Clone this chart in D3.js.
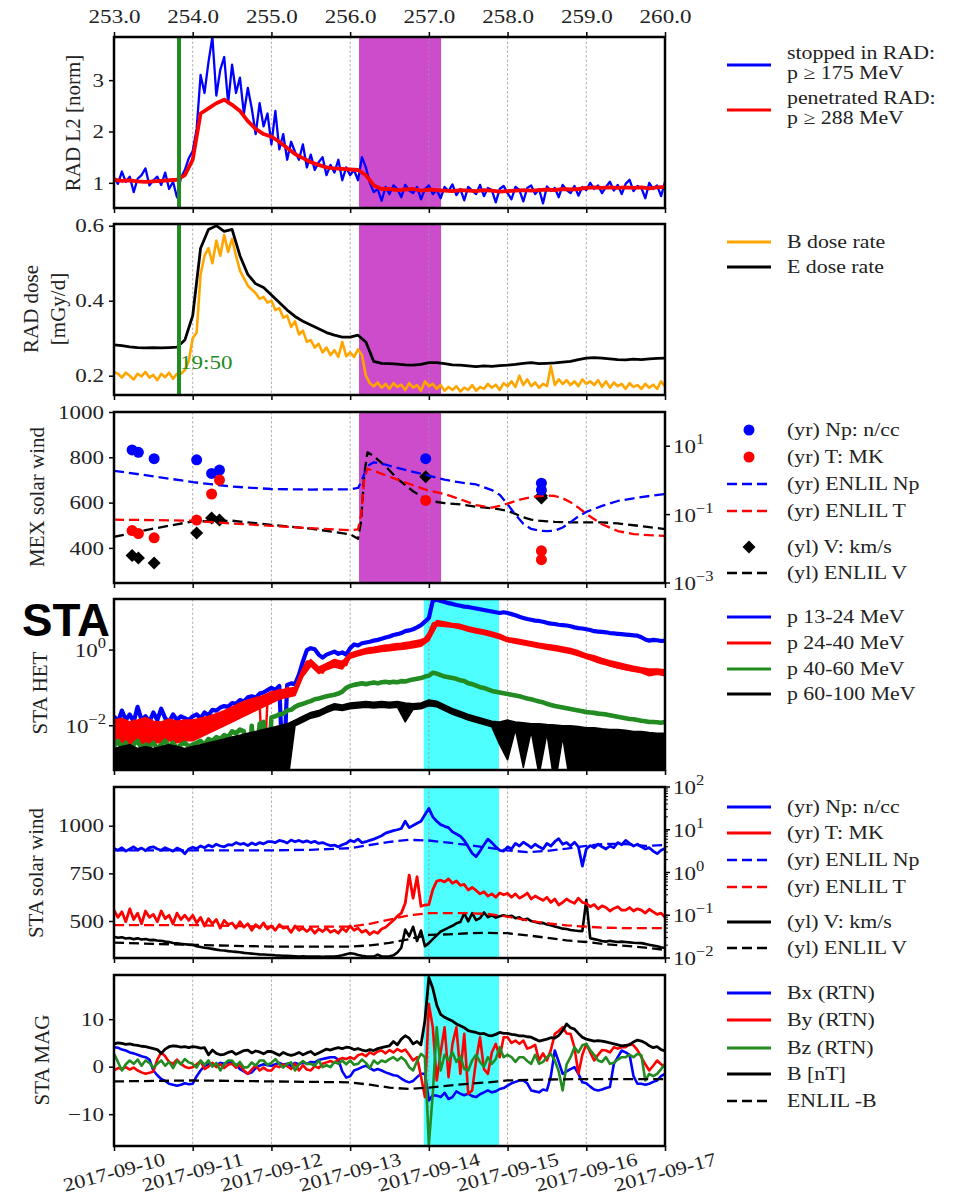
<!DOCTYPE html>
<html><head><meta charset="utf-8">
<script src="https://cdn.jsdelivr.net/npm/d3@7"></script>
<style>
body{margin:0;background:#fff;}
svg{display:block;}
</style></head><body>
<svg id="chart" width="955" height="1197"></svg>
<script>
// ---------------- DATA ----------------
const doyTicks = [253,254,255,256,257,258,259,260];
const gridDays = [254,255,256,257,258,259];
const topTickLabels = ["253.0","254.0","255.0","256.0","257.0","258.0","259.0","260.0"];
const dateLabels = ["2017-09-10","2017-09-11","2017-09-12","2017-09-13","2017-09-14","2017-09-15","2017-09-16","2017-09-17"];
const onsetDoy = 253.826;           // 19:50 marker
const onsetLabel = "19:50";
const marsSpan = [256.113, 257.155];
const staSpan = [256.935, 257.892];

// sampling grids (day of year)
const t05 = d3.range(141).map(i => +(253 + i*0.05).toFixed(2));
const t10 = d3.range(71).map(i => +(253 + i*0.1).toFixed(1));

// Panel 1: RAD L2 normalized (blue at 0.05 d, red at 0.1 d)
const radStopped = [
1.10,0.98,1.22,1.02,1.12,0.82,1.08,1.15,1.28,0.95,
1.05,1.12,0.96,1.20,0.88,1.02,0.72,1.10,1.25,1.48,
1.62,2.05,3.10,2.75,3.35,3.84,2.70,3.20,3.45,2.55,
3.30,2.75,3.05,2.35,2.85,2.45,1.95,2.55,2.10,2.35,
1.75,2.40,1.65,1.95,1.45,1.80,1.60,1.45,1.75,1.30,
1.55,1.25,1.40,1.50,1.15,1.35,1.20,1.45,1.05,1.30,
1.15,1.25,1.05,1.50,1.30,1.00,0.82,0.88,0.65,0.92,
0.78,0.95,0.88,0.72,0.96,0.85,0.80,0.92,0.68,0.88,
0.95,0.78,0.86,0.70,0.92,0.84,0.97,0.76,0.88,0.66,
0.92,0.85,0.78,0.96,0.74,0.90,0.86,0.62,0.88,0.94,
0.80,0.68,0.92,0.86,0.64,0.90,0.95,0.78,0.88,0.60,
0.93,0.84,0.90,0.72,0.96,0.86,0.80,0.94,0.75,0.92,
0.86,1.00,0.88,0.95,0.80,0.92,1.02,0.85,0.96,0.78,
0.98,1.06,0.84,0.94,0.90,0.70,1.00,0.88,0.95,0.74,1.02];
const radPenetrated = [
1.06,1.04,1.05,1.03,1.02,1.03,1.04,1.05,1.06,1.15,
1.45,2.35,2.45,2.55,2.62,2.52,2.40,2.20,2.05,1.95,
1.90,1.80,1.68,1.56,1.48,1.40,1.35,1.30,1.28,1.27,
1.26,1.25,1.15,0.95,0.88,0.88,0.86,0.87,0.88,0.85,
0.87,0.86,0.85,0.84,0.86,0.85,0.84,0.86,0.85,0.83,
0.84,0.85,0.86,0.85,0.86,0.87,0.86,0.88,0.87,0.88,
0.90,0.91,0.90,0.91,0.90,0.91,0.90,0.91,0.89,0.91,0.92];

// Panel 2: RAD dose rates, mGy/d (B at 0.05 d, E at 0.1 d)
const doseB = [
0.210,0.205,0.195,0.208,0.200,0.190,0.205,0.198,0.210,0.195,
0.202,0.188,0.205,0.196,0.208,0.192,0.205,0.205,0.215,0.240,
0.300,0.315,0.470,0.520,0.540,0.500,0.560,0.520,0.575,0.530,
0.565,0.520,0.480,0.460,0.440,0.430,0.420,0.405,0.410,0.395,
0.400,0.375,0.380,0.355,0.360,0.330,0.345,0.310,0.320,0.290,
0.295,0.275,0.285,0.262,0.275,0.255,0.268,0.250,0.290,0.252,
0.262,0.250,0.270,0.255,0.200,0.180,0.172,0.182,0.168,0.178,
0.165,0.180,0.170,0.176,0.162,0.180,0.168,0.175,0.160,0.185,
0.172,0.178,0.165,0.175,0.160,0.170,0.162,0.172,0.158,0.168,
0.162,0.175,0.160,0.170,0.165,0.178,0.168,0.176,0.162,0.180,
0.172,0.185,0.170,0.200,0.175,0.190,0.172,0.182,0.168,0.178,
0.172,0.225,0.175,0.190,0.178,0.188,0.175,0.185,0.172,0.190,
0.178,0.185,0.175,0.188,0.170,0.185,0.168,0.182,0.172,0.178,
0.165,0.180,0.170,0.175,0.165,0.178,0.168,0.176,0.165,0.185,0.172];
const doseE = [
0.282,0.280,0.277,0.275,0.274,0.275,0.274,0.275,0.276,0.295,
0.360,0.540,0.590,0.600,0.585,0.590,0.520,0.470,0.445,0.435,
0.415,0.395,0.375,0.358,0.345,0.335,0.325,0.315,0.308,0.303,
0.303,0.308,0.290,0.238,0.233,0.232,0.231,0.229,0.228,0.230,
0.235,0.235,0.232,0.229,0.228,0.226,0.224,0.226,0.225,0.227,
0.228,0.230,0.233,0.235,0.232,0.233,0.234,0.236,0.238,0.243,
0.247,0.248,0.247,0.245,0.243,0.242,0.244,0.243,0.245,0.246,0.247];

// Panel 3: MEX solar wind (sparse measurements)
const mexTime = [253.23,253.31,253.51,254.05,254.24,254.34,256.96,258.43,258.43];
const mexNp   = [7.8,6.6,4.3,4.0,1.6,2.0,4.3,0.83,0.52];          // n/cc
const mexTemp = [0.034,0.028,0.021,0.069,0.40,1.02,0.26,0.0087,0.0048]; // MK
const mexV    = [366,355,333,466,532,523,714,620,630];             // km/s
const enlilMexTime = [253.0,253.5,254.0,254.5,255.0,255.5,256.0,256.1,256.14,256.18,256.22,256.3,256.45,256.6,256.8,257.0,257.2,257.4,257.6,257.8,257.9,258.0,258.1,258.2,258.3,258.4,258.5,258.6,258.7,258.8,258.9,259.0,259.2,259.4,259.6,259.8,260.0];
const enlilMexNp = [1.91,1.32,0.89,0.66,0.56,0.54,0.55,0.60,0.89,1.58,2.63,3.39,2.88,2.34,1.78,1.38,1.05,0.87,0.76,0.52,0.38,0.20,0.10,0.054,0.038,0.034,0.033,0.034,0.042,0.060,0.089,0.12,0.18,0.25,0.30,0.35,0.40];
const enlilMexT  = [0.071,0.069,0.066,0.055,0.047,0.040,0.035,0.037,0.10,1.12,2.19,1.91,1.41,1.05,0.72,0.50,0.40,0.28,0.19,0.16,0.18,0.21,0.25,0.29,0.32,0.35,0.36,0.35,0.30,0.23,0.16,0.105,0.052,0.033,0.027,0.025,0.024];
const enlilMexV  = [449,485,517,520,502,485,460,440,520,726,822,805,760,705,650,608,598,592,582,575,570,564,550,535,525,520,517,515,514,513,513,513,513,508,500,492,483];

// Panel 4: STEREO-A HET proton flux, log10 values
// p 13-24 and p 40-60: 0.05 d samples
const het13_24log = [
-1.75,-1.9,-1.6,-1.85,-1.7,-1.9,-1.5,-1.85,-1.75,-1.9,
-1.65,-1.85,-1.55,-1.8,-1.9,-1.7,-1.85,-1.75,-1.8,-1.85,
-1.75,-1.7,-1.8,-1.65,-1.72,-1.58,-1.6,-1.52,-1.48,-1.5,
-1.4,-1.42,-1.32,-1.36,-1.25,-1.22,-1.26,-1.15,-1.12,-1.06,
-1.0,-1.05,-0.95,-3.5,-0.92,-0.88,-0.9,-0.65,-0.3,0.0,
0.05,0.02,-0.12,-0.2,-0.12,-0.08,-0.04,-0.1,-0.06,-0.12,
0.05,0.15,0.12,0.18,0.2,0.22,0.25,0.27,0.3,0.33,
0.36,0.4,0.42,0.45,0.5,0.52,0.55,0.6,0.66,0.75,
0.85,1.3,1.33,1.3,1.27,1.24,1.22,1.19,1.17,1.15,
1.14,1.12,1.1,1.08,1.06,1.04,1.02,1.0,0.98,1.0,
0.98,0.95,0.92,0.88,0.85,0.82,0.8,0.78,0.77,0.75,
0.72,0.7,0.69,0.67,0.66,0.65,0.63,0.6,0.58,0.57,
0.55,0.53,0.5,0.49,0.48,0.47,0.45,0.44,0.43,0.42,
0.41,0.4,0.39,0.38,0.34,0.28,0.25,0.27,0.26,0.24,0.25];
const het24_40log = [
-2.0,-1.88,-2.2,-1.9,-2.3,-1.86,-2.1,-2.35,-1.9,-2.2,
-2.0,-2.35,-1.95,-2.25,-1.9,-2.3,-2.1,-2.4,-2.0,-2.3,
-2.1,-2.3,-1.95,-2.1,-1.85,-2.0,-1.78,-1.9,-1.7,-1.8,
-1.55,-1.7,-1.45,-1.6,-1.35,-1.5,-1.3,-1.4,-3.6,-1.3,
-1.12,-1.2,-1.05,-1.15,-1.0,-1.1,-1.02,-0.75,-0.5,-0.3,
-0.3,-0.4,-0.55,-0.6,-0.45,-0.35,-0.3,-0.35,-0.3,-0.4,
-0.15,-0.08,-0.05,0.0,0.03,0.05,0.06,0.08,0.1,0.12,
0.13,0.15,0.16,0.17,0.19,0.2,0.22,0.24,0.26,0.3,
0.45,0.7,0.74,0.72,0.7,0.69,0.67,0.65,0.63,0.61,
0.55,0.53,0.5,0.48,0.46,0.43,0.4,0.37,0.33,0.3,
0.29,0.27,0.25,0.22,0.2,0.18,0.16,0.14,0.12,0.1,
0.08,0.06,0.04,0.02,0.0,-0.03,-0.05,-0.08,-0.12,-0.17,
-0.2,-0.24,-0.28,-0.32,-0.35,-0.37,-0.4,-0.43,-0.46,-0.48,
-0.5,-0.52,-0.54,-0.55,-0.56,-0.57,-0.58,-0.55,-0.6,-0.62,-0.6];
// noise envelope (upper / lower) of p 24-40, 0.1 d
const het24_40hi = [
-1.85,-1.8,-1.9,-1.85,-1.78,-1.88,-1.9,-1.82,-1.88,-1.85,
-1.85,-1.8,-1.75,-1.68,-1.6,-1.5,-1.4,-1.32,-1.26,-1.2,
-1.1,-1.06,-1.02,-0.98,-0.5,-0.25,-0.45,-0.35,-0.25,-0.3,
-0.08,-0.02,0.02,0.05,0.08,0.1,0.13,0.15,0.18,0.24,
0.4,0.78,0.74,0.7,0.68,0.62,0.57,0.53,0.48,0.42,
0.33,0.3,0.26,0.22,0.18,0.15,0.12,0.08,0.04,-0.02,
-0.1,-0.15,-0.22,-0.28,-0.33,-0.38,-0.43,-0.47,-0.5,-0.5,-0.52];
const het24_40lo = [
-2.5,-2.45,-2.5,-2.45,-2.5,-2.45,-2.45,-2.4,-2.45,-2.4,
-2.4,-2.3,-2.2,-2.1,-2.0,-1.9,-1.8,-1.7,-1.6,-1.5,
-1.4,-1.3,-1.25,-1.2,-0.7,-0.42,-0.62,-0.52,-0.45,-0.5,
-0.22,-0.15,-0.1,-0.07,-0.04,-0.02,0.01,0.03,0.06,0.1,
0.25,0.64,0.62,0.6,0.56,0.5,0.45,0.41,0.36,0.3,
0.22,0.18,0.14,0.1,0.06,0.02,-0.01,-0.05,-0.09,-0.15,
-0.22,-0.28,-0.35,-0.42,-0.47,-0.52,-0.56,-0.6,-0.68,-0.64,-0.68];
const het40_60log = [
-2.55,-2.4,-2.6,-2.45,-2.65,-2.5,-2.4,-2.6,-2.5,-2.55,
-2.45,-2.6,-2.5,-2.4,-2.55,-2.45,-2.6,-2.5,-2.45,-2.55,
-2.5,-2.45,-2.4,-2.5,-2.35,-2.4,-2.3,-2.35,-2.25,-2.3,
-2.15,-2.2,-2.1,-2.15,-3.6,-2.0,-3.6,-1.95,-1.9,-3.6,
-1.78,-1.75,-1.7,-1.68,-1.6,-1.58,-1.5,-1.45,-1.42,-1.38,
-1.35,-1.3,-1.28,-1.25,-1.22,-1.2,-1.18,-1.15,-1.1,-1.0,
-0.95,-0.92,-0.9,-0.88,-0.9,-0.88,-0.86,-0.88,-0.85,-0.84,
-0.86,-0.84,-0.85,-0.82,-0.83,-0.8,-0.78,-0.76,-0.74,-0.7,
-0.68,-0.6,-0.62,-0.66,-0.7,-0.72,-0.74,-0.76,-0.8,-0.82,
-0.88,-0.9,-0.94,-0.98,-1.0,-1.04,-1.08,-1.1,-1.12,-1.14,
-1.16,-1.18,-1.2,-1.22,-1.25,-1.28,-1.3,-1.33,-1.36,-1.38,
-1.42,-1.45,-1.48,-1.5,-1.52,-1.54,-1.56,-1.58,-1.6,-1.62,
-1.64,-1.65,-1.66,-1.68,-1.69,-1.7,-1.72,-1.74,-1.76,-1.78,
-1.8,-1.82,-1.83,-1.85,-1.87,-1.88,-1.9,-1.9,-1.91,-1.92,-1.9];
// noise envelope (upper / lower) of p 60-100, 0.1 d (counts below the axis floor drop out)
const het60_100hi = [
-2.6,-2.55,-2.5,-2.6,-2.55,-2.6,-2.55,-2.5,-2.55,-2.6,
-2.55,-2.5,-2.45,-2.4,-2.35,-2.3,-2.25,-2.2,-2.15,-2.1,
-2.05,-2.0,-1.95,-1.85,-1.75,-1.65,-1.6,-1.5,-1.42,-1.45,
-1.4,-1.38,-1.36,-1.38,-1.36,-1.38,-1.36,-1.4,-1.42,-1.4,
-1.32,-1.35,-1.45,-1.55,-1.62,-1.7,-1.76,-1.82,-1.88,-1.9,
-1.85,-1.9,-1.92,-1.95,-1.95,-1.97,-1.98,-2.0,-2.0,-2.02,
-2.05,-2.05,-2.08,-2.1,-2.1,-2.12,-2.15,-2.15,-2.18,-2.2,-2.2];
const het60_100lo = [
-3.6,-3.6,-3.6,-3.6,-3.6,-3.6,-3.6,-3.6,-3.6,-3.6,
-3.6,-3.6,-3.6,-3.6,-3.6,-3.6,-3.6,-3.6,-3.6,-3.6,
-3.6,-3.6,-3.6,-2.0,-1.9,-1.8,-1.75,-1.65,-1.57,-1.6,
-1.55,-1.53,-1.51,-1.53,-1.51,-1.53,-1.51,-1.9,-1.57,-1.55,
-1.47,-1.5,-1.6,-1.7,-1.77,-1.85,-1.91,-1.97,-2.03,-2.5,
-2.9,-2.1,-3.1,-2.15,-3.3,-2.2,-3.6,-2.3,-3.6,-3.6,
-3.6,-3.6,-3.6,-3.6,-3.6,-3.6,-3.6,-3.6,-3.6,-3.6,-3.6];

// Panel 5: STEREO-A solar wind (Np, T as log10; V in km/s), 0.05 d
const staNpLog = [
0.56,0.52,0.58,0.5,0.55,0.6,0.53,0.57,0.51,0.58,
0.6,0.55,0.52,0.58,0.54,0.5,0.57,0.53,0.44,0.55,
0.59,0.56,0.62,0.58,0.64,0.6,0.66,0.62,0.6,0.65,
0.64,0.7,0.66,0.68,0.63,0.69,0.65,0.7,0.67,0.72,
0.72,0.7,0.75,0.73,0.69,0.76,0.72,0.75,0.71,0.74,
0.7,0.73,0.68,0.7,0.66,0.63,0.64,0.6,0.65,0.68,
0.75,0.72,0.78,0.7,0.72,0.75,0.78,0.82,0.86,0.92,
0.95,0.98,1.0,1.03,1.2,1.05,1.1,1.15,1.2,1.35,
1.5,1.3,1.2,1.12,1.08,1.05,0.95,0.9,0.85,0.75,
0.6,0.45,0.37,0.5,0.65,0.78,0.7,0.6,0.52,0.5,
0.6,0.55,0.68,0.62,0.71,0.65,0.58,0.66,0.6,0.55,
0.68,0.62,0.72,0.79,0.66,0.7,0.62,0.71,0.6,0.15,
0.55,0.63,0.58,0.66,0.6,0.55,0.62,0.58,0.7,0.65,
0.75,0.68,0.62,0.66,0.6,0.55,0.58,0.5,0.44,0.52,0.56];
const staTLog = [
-0.88,-1.05,-0.92,-1.15,-0.85,-1.1,-0.95,-1.2,-0.9,-1.05,
-0.98,-1.15,-0.9,-1.08,-1.0,-1.2,-0.95,-1.1,-1.0,-1.12,
-1.0,-1.18,-1.05,-1.25,-1.08,-1.2,-1.1,-1.3,-1.12,-1.22,
-1.18,-1.3,-1.15,-1.28,-1.2,-1.35,-1.22,-1.3,-1.18,-1.32,
-1.25,-1.35,-1.22,-1.3,-1.28,-1.4,-1.25,-1.35,-1.3,-1.38,
-1.3,-1.42,-1.32,-1.38,-1.3,-1.4,-1.35,-1.42,-1.3,-1.38,
-1.25,-1.35,-1.3,-1.4,-1.35,-1.45,-1.38,-1.42,-1.32,-1.28,
-1.2,-1.12,-1.02,-0.95,-0.72,-0.06,-0.6,-0.1,-0.79,-0.76,
-0.75,-0.4,-0.2,-0.18,-0.22,-0.15,-0.25,-0.2,-0.3,-0.28,
-0.41,-0.35,-0.42,-0.5,-0.45,-0.55,-0.5,-0.58,-0.48,-0.52,
-0.49,-0.58,-0.5,-0.6,-0.55,-0.48,-0.62,-0.55,-0.6,-0.65,
-0.58,-0.7,-0.62,-0.76,-0.7,-0.62,-0.68,-0.72,-0.6,-0.7,
-0.72,-0.8,-0.75,-0.85,-0.78,-0.82,-0.9,-0.84,-0.8,-0.88,
-0.88,-0.82,-0.9,-0.85,-0.88,-0.95,-0.86,-0.92,-0.98,-0.95,-1.05];
const staV = [
418,412,415,408,411,405,409,403,406,400,
401,398,396,392,390,385,383,380,378,376,
375,368,364,360,357,354,350,347,345,342,
340,338,336,333,331,329,327,325,324,323,
322,320,319,318,317,316,315,314,315,314,
313,314,313,312,314,313,314,316,320,326,
331,328,322,318,315,314,313,324,314,313,
315,320,335,360,455,420,470,395,450,368,
384,405,425,445,455,465,475,488,495,541,
498,541,505,515,545,520,530,518,525,530,
524,528,515,520,506,512,500,495,489,490,
482,478,471,466,460,458,453,450,448,447,
611,410,405,400,395,392,396,393,390,392,
390,388,386,385,384,380,375,372,368,362,358];
const enlilStaTime = [253.0,253.5,254.0,254.5,255.0,255.5,256.0,256.25,256.5,256.75,257.0,257.25,257.5,257.75,258.0,258.25,258.5,258.75,259.0,259.25,259.5,259.75,260.0];
const enlilStaNp = [3.3,3.3,3.3,3.3,3.3,3.4,3.7,4.4,5.2,5.8,5.6,5.0,4.4,3.8,3.3,3.0,3.2,3.6,4.2,4.7,4.6,4.2,4.4];
const enlilStaT  = [0.059,0.059,0.059,0.056,0.054,0.054,0.054,0.063,0.079,0.10,0.112,0.112,0.112,0.107,0.093,0.076,0.065,0.058,0.054,0.051,0.050,0.050,0.050];
const enlilStaV  = [387,380,375,370,366,366,366,372,385,405,427,430,436,438,436,425,412,398,390,378,370,360,349];

// Panel 6: STEREO-A MAG (nT), 0.05 d
const magBx = [
4.1,4.0,3.6,3.4,3.0,2.8,2.5,2.2,2.0,1.5,
-0.8,-1.8,-2.6,-3.0,-3.6,-3.8,-4.0,-3.8,-3.5,-3.7,
-3.6,-2.0,-0.8,0.2,0.5,0.6,0.3,0.8,0.6,0.9,
0.9,0.4,-0.5,-1.0,-1.5,-1.2,-0.3,0.2,0.5,0.3,
0.2,0.5,0.8,0.4,0.6,0.2,0.8,0.5,0.9,0.6,
1.0,0.9,1.4,1.6,1.8,2.0,2.0,1.5,-1.0,-2.3,
-2.0,-0.8,-0.5,-0.1,0.2,-0.3,-0.8,-0.5,-0.8,-1.2,
-1.5,-1.8,-1.9,-2.5,-3.0,-3.3,-3.0,-2.2,-1.5,-1.5,
-7.1,-6.0,-6.1,-6.4,-5.5,-6.8,-6.4,-5.2,-5.7,-6.0,
-5.7,-6.2,-6.4,-5.8,-5.4,-5.0,-5.4,-5.2,-4.7,-4.5,
-4.0,-3.5,-3.2,-2.9,-2.9,-3.5,-5.0,-5.2,-5.4,-4.8,
-5.0,-2.0,3.4,1.0,-1.5,-1.0,-0.5,-0.1,-1.5,-3.3,
-3.5,-4.2,-4.8,-5.0,-4.8,-4.5,-4.3,0.6,2.0,3.4,
3.0,2.5,-2.0,-3.6,-3.6,-3.8,-3.6,-3.2,-2.9,-2.0,-1.5];
const magBy = [
-0.8,-0.3,-0.5,-0.1,-0.6,-0.2,-0.8,-1.2,-1.5,-1.3,
-1.0,1.5,3.0,2.2,1.0,0.6,1.5,0.6,0.0,-0.3,
-0.1,0.5,1.2,-0.5,0.0,0.8,-0.1,0.5,-0.3,0.4,
0.6,-0.2,0.4,-0.8,-1.5,-0.6,0.3,-0.8,-0.2,-0.8,
-0.8,0.2,-0.1,0.5,0.1,-0.5,0.6,-0.8,0.3,-0.6,
-0.8,0.1,-0.3,0.6,0.9,1.2,0.8,1.5,1.8,1.6,
2.0,1.6,2.4,2.7,2.2,3.0,2.6,3.2,3.4,2.8,
3.5,3.0,3.7,3.2,3.6,2.5,1.3,2.0,-2.0,-6.4,
13.2,8.3,-2.9,3.0,8.3,-2.2,4.8,8.3,-1.5,6.9,
-5.7,-5.0,1.3,6.2,-0.5,-1.5,3.0,4.8,2.0,6.2,
6.2,5.0,5.5,4.8,5.5,3.8,4.1,4.6,1.3,2.8,
1.3,3.5,6.9,7.5,8.3,7.0,6.9,4.0,-1.5,2.5,
4.8,3.0,1.3,2.5,3.5,3.4,3.0,4.1,3.8,4.1,
4.1,4.8,4.5,3.5,2.0,0.5,-0.8,0.2,1.3,0.5,-0.1];
const magBz = [
2.7,1.0,-0.8,0.5,1.3,0.6,1.5,0.2,1.3,0.8,
-0.2,0.6,1.3,0.2,1.0,-0.3,1.2,0.5,1.6,0.9,
0.6,-0.2,1.3,0.4,1.3,0.0,0.8,-0.8,0.5,1.3,
1.3,0.2,1.0,-0.2,-0.1,0.9,0.2,1.3,1.3,0.4,
0.8,1.6,0.6,-0.2,0.6,0.9,-0.8,0.5,1.2,0.6,
0.6,0.2,1.3,-0.1,0.3,-0.1,1.0,0.6,1.3,0.5,
1.3,0.4,0.6,1.5,0.8,-0.3,1.3,0.6,1.3,1.0,
1.6,2.0,1.3,2.0,1.3,-0.1,-0.8,1.2,2.7,2.0,
-16.3,-5.7,8.3,-0.8,2.5,1.3,3.0,1.0,2.2,-0.5,
-0.8,1.3,2.5,1.0,0.0,2.0,0.6,1.6,4.1,2.0,
2.5,2.0,1.0,2.0,2.0,1.2,0.6,2.5,0.6,1.0,
2.0,2.7,1.3,-1.0,-5.0,0.5,2.0,4.1,3.0,4.5,
4.8,3.5,2.5,1.3,1.0,2.0,0.6,0.8,1.5,2.0,
2.0,2.5,2.0,2.7,2.4,-2.9,-1.5,-2.0,-1.5,-0.5,0.6];
const magB = [
4.8,5.0,4.9,4.7,4.8,4.6,4.5,4.3,4.2,4.0,
3.8,3.6,2.8,3.7,4.2,4.4,4.3,4.1,4.2,4.0,
4.2,4.1,3.9,4.0,2.5,3.5,2.8,2.5,2.6,3.0,
3.2,2.6,3.0,3.4,3.5,2.9,3.3,3.1,2.7,3.2,
3.2,2.8,2.4,3.0,2.6,2.4,2.6,3.0,2.5,2.9,
3.2,2.5,2.9,3.3,3.7,3.5,3.8,4.0,3.8,4.1,
4.0,3.6,3.8,3.5,3.3,3.6,3.4,3.8,4.0,4.2,
4.4,5.3,4.6,5.8,6.5,6.0,4.8,5.3,4.6,9.7,
18.8,16.5,13.0,11.0,10.4,10.0,9.6,9.0,8.6,8.2,
7.6,7.4,7.2,6.9,7.0,6.6,6.5,6.8,7.2,7.0,
7.0,6.8,6.7,6.5,6.5,6.3,6.2,5.8,5.4,5.6,
5.8,6.1,6.0,6.6,7.6,9.0,8.2,7.9,7.0,6.2,
5.8,5.6,5.4,5.5,5.4,5.2,5.0,4.8,4.6,4.4,
4.5,4.6,5.2,5.6,5.4,5.0,4.4,4.0,4.2,3.6,3.3];
const enlilBTime = [253.0,253.5,254.0,254.5,255.0,255.5,256.0,256.25,256.5,256.75,257.0,257.25,257.5,257.75,258.0,258.5,259.0,259.5,260.0];
const enlilNegB  = [-3.1,-3.0,-2.9,-3.0,-3.1,-3.2,-3.3,-3.8,-4.4,-4.7,-4.4,-4.0,-3.6,-3.3,-2.9,-2.7,-2.6,-2.6,-2.6];

// ---------------- DRAWING ----------------
const SERIF = '"Liberation Serif","Times New Roman",serif';
const FS = 19.5, LFS = 18.5, YFS = 21, STRETCH = 1.18;
const TXT = '#222';
const BLUE='#0000ff', RED='#ff0000', GREEN='#228b22', ORANGE='#ffa500', BLACK='#000000';
const MAGENTA='#cc4ccc', CYAN='#4dffff';

const svg = d3.select('#chart');
svg.append('rect').attr('width',955).attr('height',1197).attr('fill','#fff');
const L = 114, R = 665, H = 171;
const tops = [37, 224, 412, 599, 787, 975];
const x = d3.scaleLinear().domain([253, 260]).range([L, R]);
const defs = svg.append('defs');
tops.forEach((t,i)=> defs.append('clipPath').attr('id','clip'+i)
  .append('rect').attr('x',L).attr('y',t).attr('width',R-L).attr('height',H));

const zip = (t, v, f = d=>d) => t.map((tt,i)=>[tt, v[i]]).filter(d=>d[1]!=null && isFinite(d[1])).map(d=>[d[0], f(d[1])]);
const pow10 = v => Math.pow(10, v);

function makePanel(i){
  const top = tops[i], bottom = top + H;
  const g = svg.append('g');
  const under = g.append('g').attr('clip-path',`url(#clip${i})`);
  const data = g.append('g').attr('clip-path',`url(#clip${i})`);
  const over = g.append('g');
  return {i, top, bottom, g, under, data, over};
}
function span(p, s, color){
  p.under.append('rect').attr('x', x(s[0])).attr('width', x(s[1]) - x(s[0]))
    .attr('y', p.top).attr('height', H).attr('fill', color);
}
function grid(p){
  p.under.selectAll('line.grid').data(gridDays).join('line').attr('class','grid')
    .attr('x1', d=>x(d)).attr('x2', d=>x(d)).attr('y1', p.top).attr('y2', p.bottom)
    .attr('stroke','#9a9a9a').attr('stroke-width',0.8).attr('stroke-dasharray','2.5,2');
}
function frame(p){
  p.over.append('rect').attr('x',L).attr('y',p.top).attr('width',R-L).attr('height',H)
    .attr('fill','none').attr('stroke','#000').attr('stroke-width',2.5);
}
function clean(g){
  g.attr('font-family', SERIF).attr('font-size', FS);
  g.select('.domain').remove();
  g.selectAll('.tick line').attr('stroke','#000').attr('stroke-width',1.5);
  g.selectAll('.tick text').attr('fill', TXT).classed('hs', true);
}
function xTicks(p){
  p.over.append('g').attr('transform',`translate(0,${p.bottom})`)
    .call(d3.axisBottom(x).tickValues(doyTicks).tickSize(5).tickFormat('')).call(clean);
}
function yLeft(p, y, vals, fmt){
  p.over.append('g').attr('transform',`translate(${L},0)`)
    .call(d3.axisLeft(y).tickValues(vals).tickSize(5).tickPadding(5).tickFormat(fmt)).call(clean);
}
function logTicks(p, y, side, exps, minor){
  const g = p.over.append('g').attr('font-family', SERIF).attr('font-size', FS);
  const x0 = side === 'left' ? L : R;
  const dir = side === 'left' ? -1 : 1;
  if (minor){
    const [d0, d1] = y.domain();
    const ticks = y.ticks().filter(v => v > d0*1.0001 && v < d1*0.9999);
    g.selectAll('line.minor').data(ticks).join('line').attr('class','minor')
      .attr('x1', x0).attr('x2', x0 + dir*3).attr('y1', d=>y(d)).attr('y2', d=>y(d))
      .attr('stroke','#000').attr('stroke-width',1);
  }
  exps.forEach(e => {
    const yy = y(Math.pow(10, e));
    g.append('line').attr('x1', x0).attr('x2', x0 + dir*5).attr('y1', yy).attr('y2', yy)
      .attr('stroke','#000').attr('stroke-width',1.5);
    const t = g.append('text').attr('x', x0 + dir*8).attr('y', yy + 7)
      .attr('text-anchor', side === 'left' ? 'end' : 'start').attr('fill', TXT).classed('hs', true);
    t.append('tspan').text('10');
    t.append('tspan').attr('dy', -9).attr('font-size', 14).text(e < 0 ? '\u2212' + (-e) : String(e));
  });
}
function ylabel(cx, cy, lines){
  return svg.append('text').attr('transform',`translate(${cx},${cy}) rotate(-90)`)
    .attr('text-anchor','middle').attr('font-family', SERIF).attr('font-size', YFS).attr('fill', TXT)
    .attr('dominant-baseline','central').text(lines);
}
function line(p, pts, y, color, w, dash){
  const gen = d3.line().x(d=>x(d[0])).y(d=>y(d[1]));
  p.data.append('path').attr('d', gen(pts)).attr('fill','none').attr('stroke', color)
    .attr('stroke-width', w).attr('stroke-linejoin','round').attr('stroke-dasharray', dash || null);
}
function band(p, t, lo, hi, y, color){
  const pts = t.map((tt,i)=>[tt, pow10(lo[i]), pow10(hi[i])]).filter(d=>isFinite(d[1]) && isFinite(d[2]));
  const gen = d3.area().x(d=>x(d[0])).y0(d=>y(d[1])).y1(d=>y(d[2]));
  p.data.append('path').attr('d', gen(pts)).attr('fill', color).attr('stroke', color)
    .attr('stroke-width', 1.5).attr('stroke-linejoin','round');
}
// legend helpers
const LGX0 = 727, LGX1 = 771, LTX = 787;
function legLine(y, color, dash, w){
  svg.append('line').attr('x1',LGX0).attr('x2',LGX1).attr('y1',y).attr('y2',y)
    .attr('stroke',color).attr('stroke-width', w || 3).attr('stroke-dasharray', dash || null);
}
function legText(y, str){
  svg.append('text').attr('x', LTX).attr('y', y).attr('font-family', SERIF).attr('font-size', LFS)
    .attr('fill', TXT).classed('hs', true).text(str);
}
const DASH = '10,5';

// ---------- Panel 1 ----------
{
  const p = makePanel(0);
  const y = d3.scaleLinear().domain([0.51, 3.84]).range([p.bottom, p.top]);
  span(p, marsSpan, MAGENTA); grid(p);
  line(p, zip(t05, radStopped), y, BLUE, 2.3);
  line(p, zip(t10, radPenetrated), y, RED, 3.8);
  p.over.append('line').attr('x1', x(onsetDoy)).attr('x2', x(onsetDoy)).attr('y1', p.top).attr('y2', p.bottom)
    .attr('stroke', GREEN).attr('stroke-width', 4);
  frame(p); xTicks(p);
  p.over.append('g').attr('transform',`translate(0,${p.top})`)
    .call(d3.axisTop(x).tickValues(doyTicks).tickSize(5).tickPadding(9).tickFormat((d,i)=>topTickLabels[i])).call(clean);
  yLeft(p, y, [1,2,3], d3.format('d'));
  ylabel(73, 123, 'RAD L2 [norm]');
  legLine(65, BLUE); legText(59, 'stopped in RAD:'); legText(79, 'p \u2265 175 MeV');
  legLine(110, RED); legText(104, 'penetrated RAD:'); legText(124, 'p \u2265 288 MeV');
}
// ---------- Panel 2 ----------
{
  const p = makePanel(1);
  const y = d3.scaleLinear().domain([0.1485, 0.6045]).range([p.bottom, p.top]);
  span(p, marsSpan, MAGENTA); grid(p);
  line(p, zip(t05, doseB), y, ORANGE, 2.6);
  line(p, zip(t10, doseE), y, BLACK, 2.8);
  p.over.append('line').attr('x1', x(onsetDoy)).attr('x2', x(onsetDoy)).attr('y1', p.top).attr('y2', p.bottom)
    .attr('stroke', GREEN).attr('stroke-width', 4);
  p.over.append('text').attr('x', x(onsetDoy) + 1).attr('y', 369).attr('font-family', SERIF).attr('font-size', FS)
    .attr('fill', GREEN).classed('hs', true).text(onsetLabel);
  frame(p); xTicks(p);
  yLeft(p, y, [0.2,0.4,0.6], d3.format('.1f'));
  ylabel(31, 309, 'RAD dose');
  ylabel(58, 309, '[mGy/d]');
  legLine(242, ORANGE); legText(248, 'B dose rate');
  legLine(267, BLACK); legText(273, 'E dose rate');
}
// ---------- Panel 3 ----------
{
  const p = makePanel(2);
  const yl = d3.scaleLinear().domain([245, 1000]).range([p.bottom, p.top]);
  const yr = d3.scaleLog().domain([1e-3, 1e2]).range([p.bottom, p.top]);
  span(p, marsSpan, MAGENTA); grid(p);
  line(p, zip(enlilMexTime, enlilMexV), yl, BLACK, 2.3, DASH);
  const diamond = d3.symbol().type(d3.symbolSquare).size(85);
  p.data.selectAll('path.v').data(zip(mexTime, mexV)).join('path').attr('class','v')
    .attr('d', diamond()).attr('transform', d=>`translate(${x(d[0])},${yl(d[1])}) rotate(45)`).attr('fill', BLACK);
  line(p, zip(enlilMexTime, enlilMexNp), yr, BLUE, 2.3, DASH);
  line(p, zip(enlilMexTime, enlilMexT), yr, RED, 2.3, DASH);
  p.data.selectAll('circle.np').data(zip(mexTime, mexNp)).join('circle').attr('class','np')
    .attr('cx', d=>x(d[0])).attr('cy', d=>yr(d[1])).attr('r', 5.5).attr('fill', BLUE);
  p.data.selectAll('circle.tt').data(zip(mexTime, mexTemp)).join('circle').attr('class','tt')
    .attr('cx', d=>x(d[0])).attr('cy', d=>yr(d[1])).attr('r', 5.5).attr('fill', RED);
  frame(p); xTicks(p);
  yLeft(p, yl, [400,600,800,1000], d3.format('d'));
  logTicks(p, yr, 'right', [1,-1,-3], false);
  ylabel(37, 497, 'MEX solar wind');
  svg.append('circle').attr('cx',749).attr('cy',430).attr('r',5.5).attr('fill',BLUE); legText(436, '(yr) Np:  n/cc');
  svg.append('circle').attr('cx',749).attr('cy',457).attr('r',5.5).attr('fill',RED); legText(463, '(yr) T: MK');
  legLine(484, BLUE, DASH, 2.5); legText(490, '(yr) ENLIL Np');
  legLine(511, RED, DASH, 2.5); legText(517, '(yr) ENLIL T');
  svg.append('path').attr('d', diamond()).attr('transform','translate(749,547) rotate(45)').attr('fill',BLACK);
  legText(553, '(yl) V: km/s');
  legLine(573, BLACK, DASH, 2.5); legText(579, '(yl) ENLIL V');
}
// ---------- Panel 4 ----------
{
  const p = makePanel(3);
  const y = d3.scaleLog().domain([Math.pow(10,-3.17), Math.pow(10,1.35)]).range([p.bottom, p.top]);
  span(p, staSpan, CYAN); grid(p);
  line(p, zip(t05, het13_24log, pow10), y, BLUE, 4.2);
  band(p, t10, het24_40lo, het24_40hi, y, RED);
  line(p, zip(t05, het24_40log, pow10), y, RED, 2.4);
  line(p, zip(t05, het40_60log, pow10), y, GREEN, 4.6);
  band(p, t10, het60_100lo, het60_100hi, y, BLACK);
  frame(p); xTicks(p);
  logTicks(p, y, 'left', [0,-2], false);
  ylabel(40, 693, 'STA HET');
  svg.append('text').attr('x', 22).attr('y', 636).attr('font-family','"Liberation Sans",Arial,sans-serif')
    .attr('font-weight','bold').attr('font-size', 46).attr('fill','#000')
    .attr('textLength', 88).attr('lengthAdjust','spacingAndGlyphs').text('STA');
  legLine(617, BLUE); legText(623, 'p 13-24 MeV');
  legLine(643, RED); legText(649, 'p 24-40 MeV');
  legLine(669, GREEN); legText(675, 'p 40-60 MeV');
  legLine(694, BLACK); legText(700, 'p 60-100 MeV');
}
// ---------- Panel 5 ----------
{
  const p = makePanel(4);
  const yl = d3.scaleLinear().domain([306, 1203]).range([p.bottom, p.top]);
  const yr = d3.scaleLog().domain([1e-2, 1e2]).range([p.bottom, p.top]);
  span(p, staSpan, CYAN); grid(p);
  line(p, zip(t05, staV), yl, BLACK, 2.6);
  line(p, zip(enlilStaTime, enlilStaV), yl, BLACK, 2.3, DASH);
  line(p, zip(t05, staNpLog, pow10), yr, BLUE, 2.8);
  line(p, zip(t05, staTLog, pow10), yr, RED, 2.8);
  line(p, zip(enlilStaTime, enlilStaNp), yr, BLUE, 2.3, DASH);
  line(p, zip(enlilStaTime, enlilStaT), yr, RED, 2.3, DASH);
  frame(p); xTicks(p);
  yLeft(p, yl, [500,750,1000], d3.format('d'));
  logTicks(p, yr, 'right', [2,1,0,-1,-2], true);
  ylabel(36, 873, 'STA solar wind');
  legLine(807, BLUE); legText(813, '(yr) Np:  n/cc');
  legLine(833, RED); legText(839, '(yr) T: MK');
  legLine(860, BLUE, DASH, 2.5); legText(866, '(yr) ENLIL Np');
  legLine(887, RED, DASH, 2.5); legText(893, '(yr) ENLIL T');
  legLine(922, BLACK); legText(928, '(yl) V: km/s');
  legLine(948, BLACK, DASH, 2.5); legText(954, '(yl) ENLIL V');
}
// ---------- Panel 6 ----------
{
  const p = makePanel(5);
  const y = d3.scaleLinear().domain([-16.7, 19.3]).range([p.bottom, p.top]);
  span(p, staSpan, CYAN); grid(p);
  line(p, zip(t05, magBx), y, BLUE, 2.6);
  line(p, zip(t05, magBy), y, RED, 2.6);
  line(p, zip(t05, magBz), y, GREEN, 2.6);
  line(p, zip(t05, magB), y, BLACK, 2.8);
  line(p, zip(enlilBTime, enlilNegB), y, BLACK, 2.3, DASH);
  frame(p); xTicks(p);
  yLeft(p, y, [-10,0,10], d3.format('d'));
  ylabel(42, 1060, 'STA MAG');
  legLine(993, BLUE); legText(999, 'Bx (RTN)');
  legLine(1020, RED); legText(1026, 'By (RTN)');
  legLine(1048, GREEN); legText(1054, 'Bz (RTN)');
  legLine(1074, BLACK); legText(1080, 'B [nT]');
  legLine(1101, BLACK, DASH, 2.5); legText(1107, 'ENLIL -B');
  // rotated date labels
  svg.append('g').selectAll('text').data(doyTicks).join('text')
    .attr('transform', d=>`translate(${x(d)},1172) rotate(-15)`)
    .attr('text-anchor','middle').attr('dominant-baseline','central')
    .attr('font-family', SERIF).attr('font-size', 19).attr('fill', TXT).classed('hs', true)
    .text((d,i)=>dateLabels[i]);
}
// horizontal stretch to mimic the reference's wide glyphs
svg.selectAll('text.hs').each(function(){
  const len = this.getComputedTextLength();
  if (len > 0){ this.setAttribute('textLength', (len*STRETCH).toFixed(1)); this.setAttribute('lengthAdjust','spacingAndGlyphs'); }
});
</script>
</body></html>
